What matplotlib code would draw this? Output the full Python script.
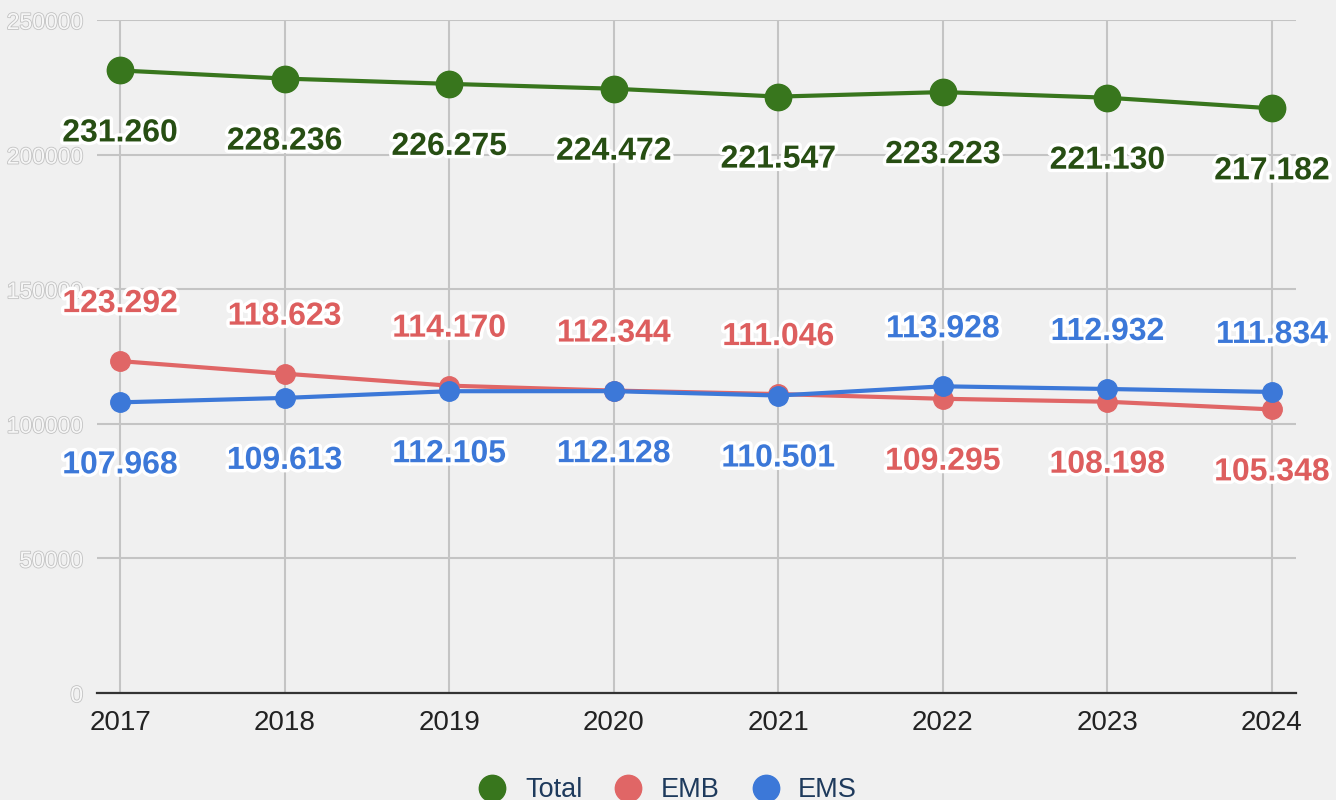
import matplotlib
matplotlib.use("Agg")
import matplotlib.pyplot as plt
import matplotlib.patheffects as pe
from matplotlib.lines import Line2D

years = [2017, 2018, 2019, 2020, 2021, 2022, 2023, 2024]
total = [231260, 228236, 226275, 224472, 221547, 223223, 221130, 217182]
emb = [123292, 118623, 114170, 112344, 111046, 109295, 108198, 105348]
ems = [107968, 109613, 112105, 112128, 110501, 113928, 112932, 111834]
y_ticks = [0, 50000, 100000, 150000, 200000, 250000]

GREEN, RED, BLUE = "#38761d", "#e06666", "#3c78d8"
BG = "#f0f0f0"

plt.rcParams["font.family"] = ["Liberation Sans", "DejaVu Sans"]

fig = plt.figure(figsize=(13.36, 8), dpi=100, facecolor=BG)
ax = fig.add_axes([97 / 1336, 107 / 800, 1199 / 1336, 673 / 800], facecolor=BG)

ax.set_xlim(2017 - 0.14, 2024 + 0.146)
ax.set_ylim(0, 250000)
ax.set_xticks(years)
ax.set_xticklabels([str(y) for y in years], fontsize=20, color="#222222")
ax.set_yticks(y_ticks)
ax.set_yticklabels([str(t) for t in y_ticks], fontsize=16.5, color="#f7f7f7")
for lab in ax.get_yticklabels():
    lab.set_path_effects([pe.withStroke(linewidth=1.2, foreground="#c2c2c2")])
ax.tick_params(length=0)
ax.tick_params(axis="y", pad=10)
ax.tick_params(axis="x", pad=12)
ax.grid(True, color="#c4c4c4", linewidth=1.5, zorder=0)
ax.set_axisbelow(True)
for s in ["top", "right", "left"]:
    ax.spines[s].set_visible(False)
ax.spines["bottom"].set_color("#333333")
ax.spines["bottom"].set_linewidth(1.6)

ax.plot(years, total, color=GREEN, lw=3, marker="o", ms=19, zorder=3, clip_on=False)
ax.plot(years, emb, color=RED, lw=3, marker="o", ms=14, zorder=3, clip_on=False)
ax.plot(years, ems, color=BLUE, lw=3, marker="o", ms=14, zorder=4, clip_on=False)


def fmt(v):
    return f"{v:,}".replace(",", ".")


def label(x, v, color, above):
    off = 57 if above else -63
    ax.annotate(fmt(v), (x, v), xytext=(0, off), textcoords="offset pixels",
                ha="center", va="center", fontsize=23, fontweight="bold",
                color=color, zorder=6,
                path_effects=[pe.withStroke(linewidth=5, foreground="white")])


for i, x in enumerate(years):
    label(x, total[i], "#274e13", False)
    emb_up = emb[i] > ems[i]
    label(x, emb[i], "#dd5e5e", emb_up)
    label(x, ems[i], BLUE, not emb_up)

handles = [Line2D([], [], ls="none", marker="o", ms=19, color=c) for c in (GREEN, RED, BLUE)]
leg = fig.legend(handles, ["Total", "EMB", "EMS"], loc="center", bbox_to_anchor=(0.5, 10 / 800),
                 ncol=3, frameon=False, fontsize=19.5, handlelength=1.0, handletextpad=0.7,
                 columnspacing=1.2)
for t in leg.get_texts():
    t.set_color("#1e3a5c")

fig.savefig("out.png", dpi=100, facecolor=BG)
